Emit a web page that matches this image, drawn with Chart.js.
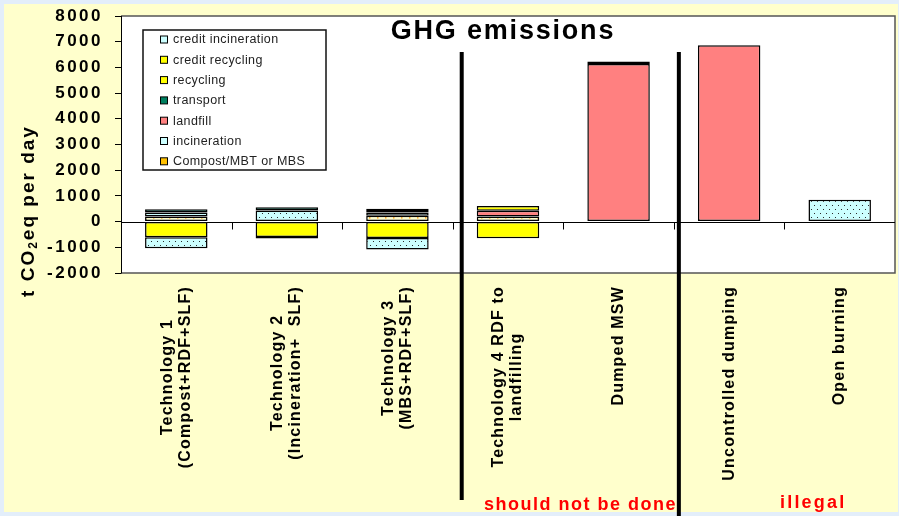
<!DOCTYPE html>
<html>
<head>
<meta charset="utf-8">
<script src="https://cdn.jsdelivr.net/npm/chart.js@4.4.1/dist/chart.umd.min.js"></script>
<style>
  html, body { margin: 0; padding: 0; background: #e3eefa; }
  #wrap { width: 899px; height: 516px; position: relative; }
</style>
</head>
<body>
<div id="wrap"><canvas id="c" width="899" height="516"></canvas></div>
<script>
// Scenario labels (multi-line, drawn rotated under the plot)
const categories = [
  ['Technology 1', '(Compost+RDF+SLF)'],
  ['Technology 2', '(Incineration+  SLF)'],
  ['Technology 3', '(MBS+RDF+SLF)'],
  ['Technology 4 RDF to', 'landfilling'],
  ['Dumped MSW'],
  ['Uncontrolled dumping'],
  ['Open burning']
];

// GHG contributions, t CO2eq per day
const compost            = [195,   0, 230, 195,    0,    0,   0];
const incineration       = [155, 430, 120,   0,    0,    0, 850];
const landfill           = [  0,   0,   0, 230, 6130, 6860,   0];
const transport          = [130, 130,  60,   0,  100,    0,   0];
const recycling          = [  0,   0,  90, 180,    0,    0,   0];
const creditRecycling    = [-610, -600, -640, -650, 0,   0,   0];
const creditIncineration = [-425,  -60, -450,   0,  0,   0,   0];

// Value axis
const yMin = -2000;
const yMax = 8000;
const yStep = 1000;

const canvas = document.getElementById('c');
const ctx = canvas.getContext('2d');

function dotPattern(bg, fg, w, h, pts, size) {
  const t = document.createElement('canvas');
  t.width = w; t.height = h;
  const c = t.getContext('2d');
  c.fillStyle = bg; c.fillRect(0, 0, w, h);
  c.fillStyle = fg;
  pts.forEach(p => c.fillRect(p[0], p[1], size, size));
  return ctx.createPattern(t, 'repeat');
}

const cyanDots = dotPattern('#ccffff', '#2a2a2a', 6, 8, [[1, 1], [4, 5]], 1);
const compostDots = dotPattern('#ffffcc', '#ff9900', 8, 6, [[1, 1], [5, 4]], 1.5);

const series = [
  { label: 'Compost/MBT or MBS', data: compost, fill: compostDots, swatch: '#ffc000' },
  { label: 'incineration', data: incineration, fill: cyanDots, swatch: '#ccffff' },
  { label: 'landfill', data: landfill, fill: '#ff8080', swatch: '#ff8080' },
  { label: 'transport', data: transport, fill: '#008060', swatch: '#008060' },
  { label: 'recycling', data: recycling, fill: '#ffff00', swatch: '#ffff00' },
  { label: 'credit recycling', data: creditRecycling, fill: '#ffff00', swatch: '#ffff00' },
  { label: 'credit incineration', data: creditIncineration, fill: cyanDots, swatch: '#ccffff' }
];

const decor = {
  id: 'decor',
  beforeDraw(chart) {
    const c = chart.ctx;
    const a = chart.chartArea;
    c.save();
    c.fillStyle = '#e3eefa';
    c.fillRect(0, 0, chart.width, chart.height);
    c.fillStyle = '#ffffcc';
    c.fillRect(4, 4, chart.width - 5, chart.height - 8);
    c.fillStyle = '#ffffff';
    c.fillRect(a.left, a.top, a.right - a.left, a.bottom - a.top);
    c.restore();
    c.letterSpacing = '2.5px';
  },
  afterDraw(chart) {
    const c = chart.ctx;
    const a = chart.chartArea;
    const xs = chart.scales.x;
    const ys = chart.scales.y;
    const n = categories.length;
    const boundary = k => (xs.getPixelForValue(k - 1) + xs.getPixelForValue(k)) / 2;

    c.save();
    c.letterSpacing = '0px';

    // plot frame
    c.strokeStyle = '#555555';
    c.lineWidth = 1.5;
    c.beginPath();
    c.moveTo(a.left, a.top); c.lineTo(a.right, a.top);
    c.lineTo(a.right, a.bottom); c.lineTo(a.left, a.bottom);
    c.stroke();
    c.strokeStyle = '#000';
    c.lineWidth = 1;
    c.beginPath();
    c.moveTo(a.left + 0.5, a.top); c.lineTo(a.left + 0.5, a.bottom);
    c.stroke();

    // category axis at zero with tick marks between categories
    const y0 = Math.round(ys.getPixelForValue(0)) + 0.5;
    c.beginPath();
    c.moveTo(a.left, y0); c.lineTo(a.right, y0);
    for (let k = 1; k < n; k++) {
      const bx = Math.round(boundary(k)) + 0.5;
      c.moveTo(bx, y0); c.lineTo(bx, y0 + 7);
    }
    c.stroke();

    // separators between scenario groups
    c.lineWidth = 4;
    c.beginPath();
    const s1 = boundary(3) + 9;
    const s2 = boundary(5) + 5;
    c.moveTo(s1, 52); c.lineTo(s1, 500);
    c.moveTo(s2, 52); c.lineTo(s2, chart.height);
    c.stroke();

    // title
    c.fillStyle = '#000';
    c.font = 'bold 27px Arial, "Liberation Sans", sans-serif';
    c.letterSpacing = '1.8px';
    c.textAlign = 'center';
    c.textBaseline = 'middle';
    c.fillText('GHG emissions', (a.left + a.right) / 2 - 5, 32);

    // legend
    c.letterSpacing = '0.4px';
    const lx = 143, ly = 30, lw = 183, lh = 140;
    c.fillStyle = '#fff';
    c.fillRect(lx, ly, lw, lh);
    c.strokeStyle = '#111';
    c.lineWidth = 1.5;
    c.strokeRect(lx, ly, lw, lh);
    c.font = '12.5px Arial, "Liberation Sans", sans-serif';
    c.textAlign = 'left';
    const ordered = series.slice().reverse();
    ordered.forEach((s, i) => {
      const cy = 39.5 + i * 20.3;
      c.fillStyle = s.swatch;
      c.fillRect(160.5, cy - 3.5, 7, 7);
      c.strokeStyle = '#000';
      c.lineWidth = 1;
      c.strokeRect(160.5, cy - 3.5, 7, 7);
      c.fillStyle = '#222';
      c.fillText(s.label, 173, cy + 0.5);
    });

    // value axis title with subscript
    c.save();
    c.translate(29, 211);
    c.rotate(-Math.PI / 2);
    c.letterSpacing = '2px';
    const big = 'bold 19px Arial, "Liberation Sans", sans-serif';
    const small = 'bold 12px Arial, "Liberation Sans", sans-serif';
    const parts = [['t CO', big, 0], ['2', small, 5], ['eq per day', big, 0]];
    let total = 0;
    parts.forEach(p => { c.font = p[1]; total += c.measureText(p[0]).width; });
    let px = -total / 2;
    c.textAlign = 'left';
    c.fillStyle = '#000';
    parts.forEach(p => {
      c.font = p[1];
      c.fillText(p[0], px, p[2]);
      px += c.measureText(p[0]).width;
    });
    c.restore();

    // rotated category labels, block anchored under the plot, lines centred
    c.font = 'bold 16px Arial, "Liberation Sans", sans-serif';
    c.letterSpacing = '1.2px';
    c.fillStyle = '#000';
    c.textAlign = 'center';
    c.textBaseline = 'middle';
    const lineGap = 18;
    categories.forEach((lines, i) => {
      const cx = xs.getPixelForValue(i);
      let maxW = 0;
      lines.forEach(t => { maxW = Math.max(maxW, c.measureText(t).width); });
      const cyMid = a.bottom + 13 + maxW / 2;
      lines.forEach((t, j) => {
        const lxp = cx + (j - (lines.length - 1) / 2) * lineGap;
        c.save();
        c.translate(lxp, cyMid);
        c.rotate(-Math.PI / 2);
        c.fillText(t, 0, 0);
        c.restore();
      });
    });

    // notes
    c.fillStyle = '#ff0000';
    c.font = 'bold 18px Arial, "Liberation Sans", sans-serif';
    c.letterSpacing = '1.5px';
    c.textAlign = 'left';
    c.fillText('should not be done', 484, 505);
    c.letterSpacing = '2.2px';
    c.fillText('illegal', 780, 503);
    c.restore();
  }
};

new Chart(ctx, {
  type: 'bar',
  data: {
    labels: categories,
    datasets: series.map(s => ({
      label: s.label,
      data: s.data,
      backgroundColor: s.fill,
      borderColor: '#000000',
      borderWidth: 1.5,
      borderSkipped: false,
      categoryPercentage: 1,
      barPercentage: 0.565
    }))
  },
  options: {
    responsive: false,
    animation: false,
    devicePixelRatio: 1,
    layout: { padding: { left: 0, right: 4, top: 16, bottom: 0 } },
    plugins: {
      legend: { display: false },
      tooltip: { enabled: false },
      title: { display: false }
    },
    scales: {
      x: {
        stacked: true,
        grid: { display: false },
        border: { display: false },
        ticks: { display: false },
        afterFit(s) { s.height = 243; }
      },
      y: {
        stacked: true,
        min: yMin,
        max: yMax,
        ticks: {
          stepSize: yStep,
          color: '#000',
          padding: 12,
          callback: v => String(v),
          font: { family: 'Arial, "Liberation Sans", sans-serif', size: 17, weight: 'bold' }
        },
        grid: { drawOnChartArea: false, tickLength: 6, color: '#000', lineWidth: 1 },
        border: { display: true, color: '#000', width: 1 },
        afterFit(s) {
          s.width = 121;
          s.paddingTop = 10;
          s.paddingBottom = 10;
        }
      }
    }
  },
  plugins: [decor]
});
</script>
</body>
</html>
